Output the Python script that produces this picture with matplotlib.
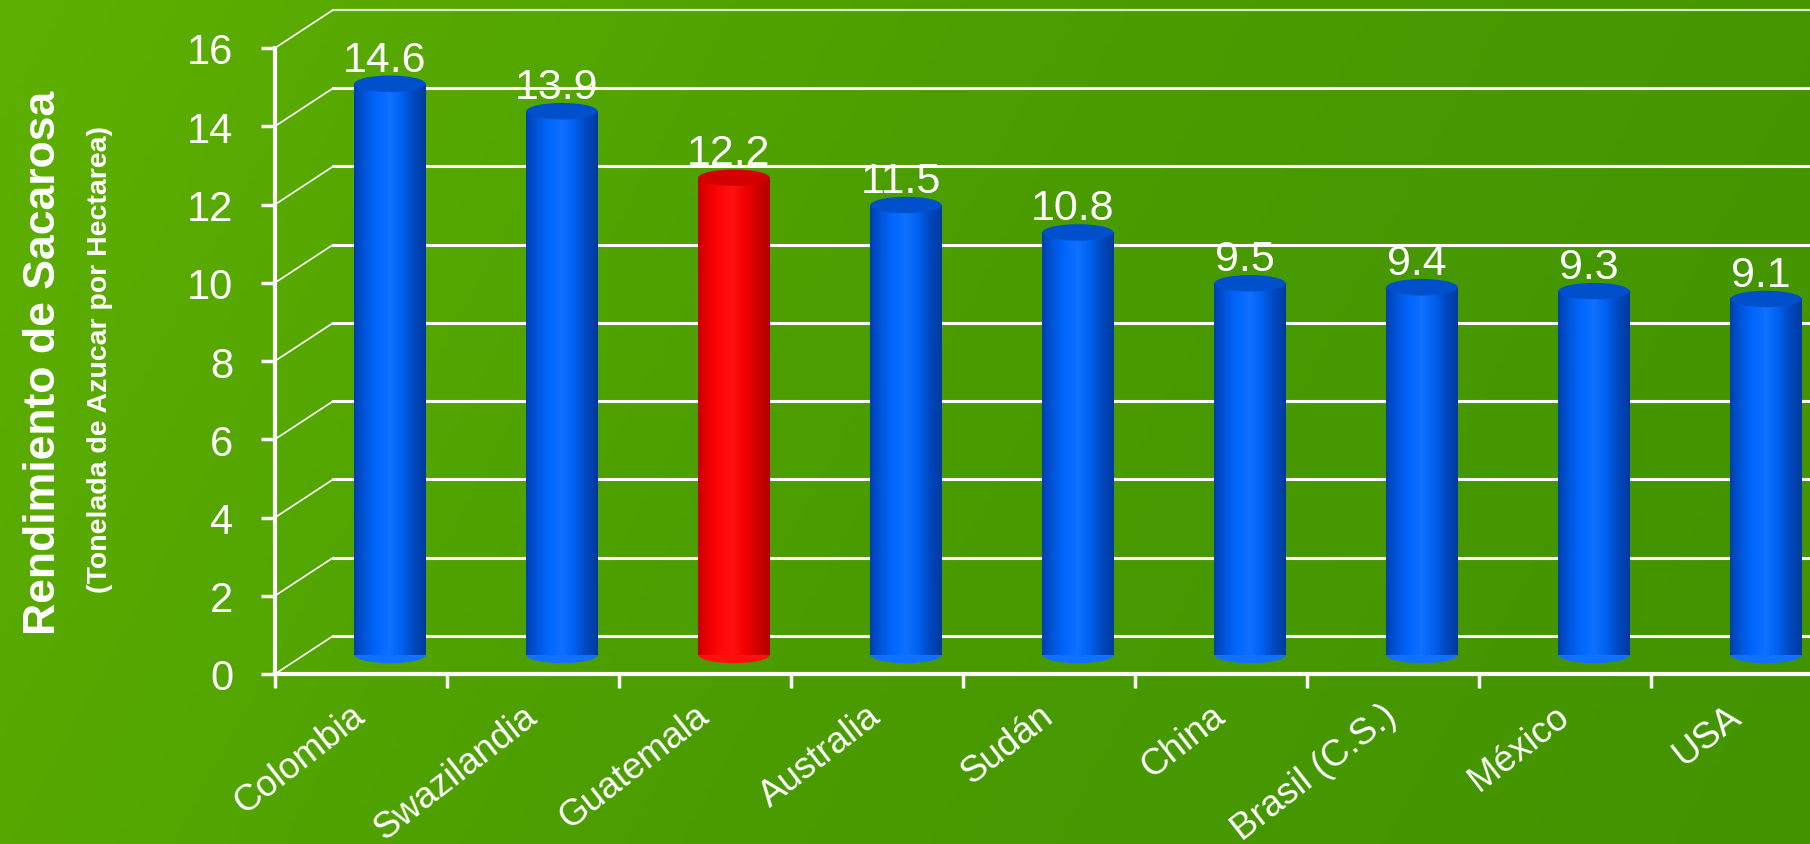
import numpy as np
import matplotlib
matplotlib.use('Agg')
import matplotlib.pyplot as plt
from matplotlib.patches import Ellipse, Rectangle
from matplotlib.colors import LinearSegmentedColormap

plt.rcParams['font.family'] = ['Liberation Sans', 'DejaVu Sans']

paises = ['Colombia', 'Swazilandia', 'Guatemala', 'Australia', 'Sudán',
          'China', 'Brasil (C.S.)', 'México', 'USA']
rendimiento = [14.6, 13.9, 12.2, 11.5, 10.8, 9.5, 9.4, 9.3, 9.1]
destacado = 'Guatemala'
yticks = [0, 2, 4, 6, 8, 10, 12, 14, 16]

fig = plt.figure(figsize=(18.1, 8.45), dpi=100)

# fondo verde degradado
bg = fig.add_axes([0, 0, 1, 1], zorder=-5)
gx, gy = np.meshgrid(np.linspace(0, 1, 300), np.linspace(0, 1, 150))
grad = 0.8 * gx + 0.2 * gy
bg_cmap = LinearSegmentedColormap.from_list('bg', ['#5eb000', '#4a9c00', '#429300'])
bg.imshow(grad, cmap=bg_cmap, aspect='auto', extent=[0, 1, 0, 1], origin='upper')
bg.axis('off')

ax = fig.add_axes([275 / 1810, 170 / 845, 1548 / 1810, 626 / 845])
ax.set_xlim(0, len(paises))
ax.set_ylim(0, 16)
ax.patch.set_alpha(0)

# profundidad del grafico 3D (en unidades de datos)
ddx = 58 / 172
ddy = 38 / 39.1

for v in yticks:
    lw = 2.2 if v != 16 else 1.6
    col = 'white' if v != 16 else '#d8e8c8'
    ax.plot([ddx, len(paises) + ddx], [v + ddy, v + ddy], color=col, lw=lw,
            clip_on=False, zorder=1)
    ax.plot([0, ddx], [v, v + ddy], color='white', lw=1.2, clip_on=False, zorder=1)

blue_cmap = LinearSegmentedColormap.from_list(
    'b', ['#0040b0', '#0058e0', '#0068ff', '#1070ff', '#0062f0', '#0048c0', '#003a9c'])
red_cmap = LinearSegmentedColormap.from_list(
    'r', ['#c80000', '#f00000', '#ff0a0a', '#ff1010', '#f00000', '#d00000', '#b00000'])

bw = 0.413
eh = 0.42
shade = np.linspace(0, 1, 200).reshape(1, -1)
for i, (p, val) in enumerate(zip(paises, rendimiento)):
    cx = i + 0.5 + ddx / 2
    base = ddy / 2
    top = val + ddy / 2
    cmap = red_cmap if p == destacado else blue_cmap
    topc = '#d40000' if p == destacado else '#0050cc'
    im = ax.imshow(shade, cmap=cmap, aspect='auto',
                   extent=[cx - bw / 2, cx + bw / 2, base, top], zorder=3,
                   clip_on=False)
    body = Rectangle((cx - bw / 2, base), bw, top - base, transform=ax.transData)
    im.set_clip_path(body)
    bot = Ellipse((cx, base), bw, eh, facecolor=cmap(0.5), edgecolor='none', zorder=2.9,
                  clip_on=False)
    ax.add_patch(bot)
    cap = Ellipse((cx, top), bw, eh, facecolor=topc, edgecolor='none', zorder=4,
                  clip_on=False)
    ax.add_patch(cap)
    ax.annotate(f'{val:.1f}', (cx - 0.03, top), xytext=(0, 3), textcoords='offset points',
                ha='center', va='bottom', fontsize=31, color='white', zorder=5,
                annotation_clip=False)

for s in ['top', 'right']:
    ax.spines[s].set_visible(False)
for s in ['left', 'bottom']:
    ax.spines[s].set_color('white')
    ax.spines[s].set_linewidth(3)

ax.set_yticks(yticks)
ax.set_yticklabels([str(t) for t in yticks])
ax.set_xticks(range(len(paises) + 1))
ax.set_xticklabels([])
ax.set_xticks(np.arange(len(paises)) + 0.5, minor=True)
ax.set_xticklabels(paises, minor=True, rotation=38, ha='right', va='center',
                   rotation_mode='anchor')
ax.tick_params(axis='y', colors='white', labelsize=30, length=10, width=2.5, pad=20)
ax.tick_params(axis='x', which='major', colors='white', length=10, width=2.5, direction='out')
ax.tick_params(axis='x', which='minor', colors='white', labelsize=26.5, length=0, pad=27)

fig.text(0.024, 0.57, 'Rendimiento de Sacarosa', rotation=90, ha='center', va='center',
         fontsize=32, fontweight='bold', color='white')
fig.text(0.055, 0.574, '(Tonelada de Azucar por Hectarea)', rotation=90, ha='center',
         va='center', fontsize=20.5, fontweight='bold', color='white')

fig.savefig('out.png', dpi=100)
